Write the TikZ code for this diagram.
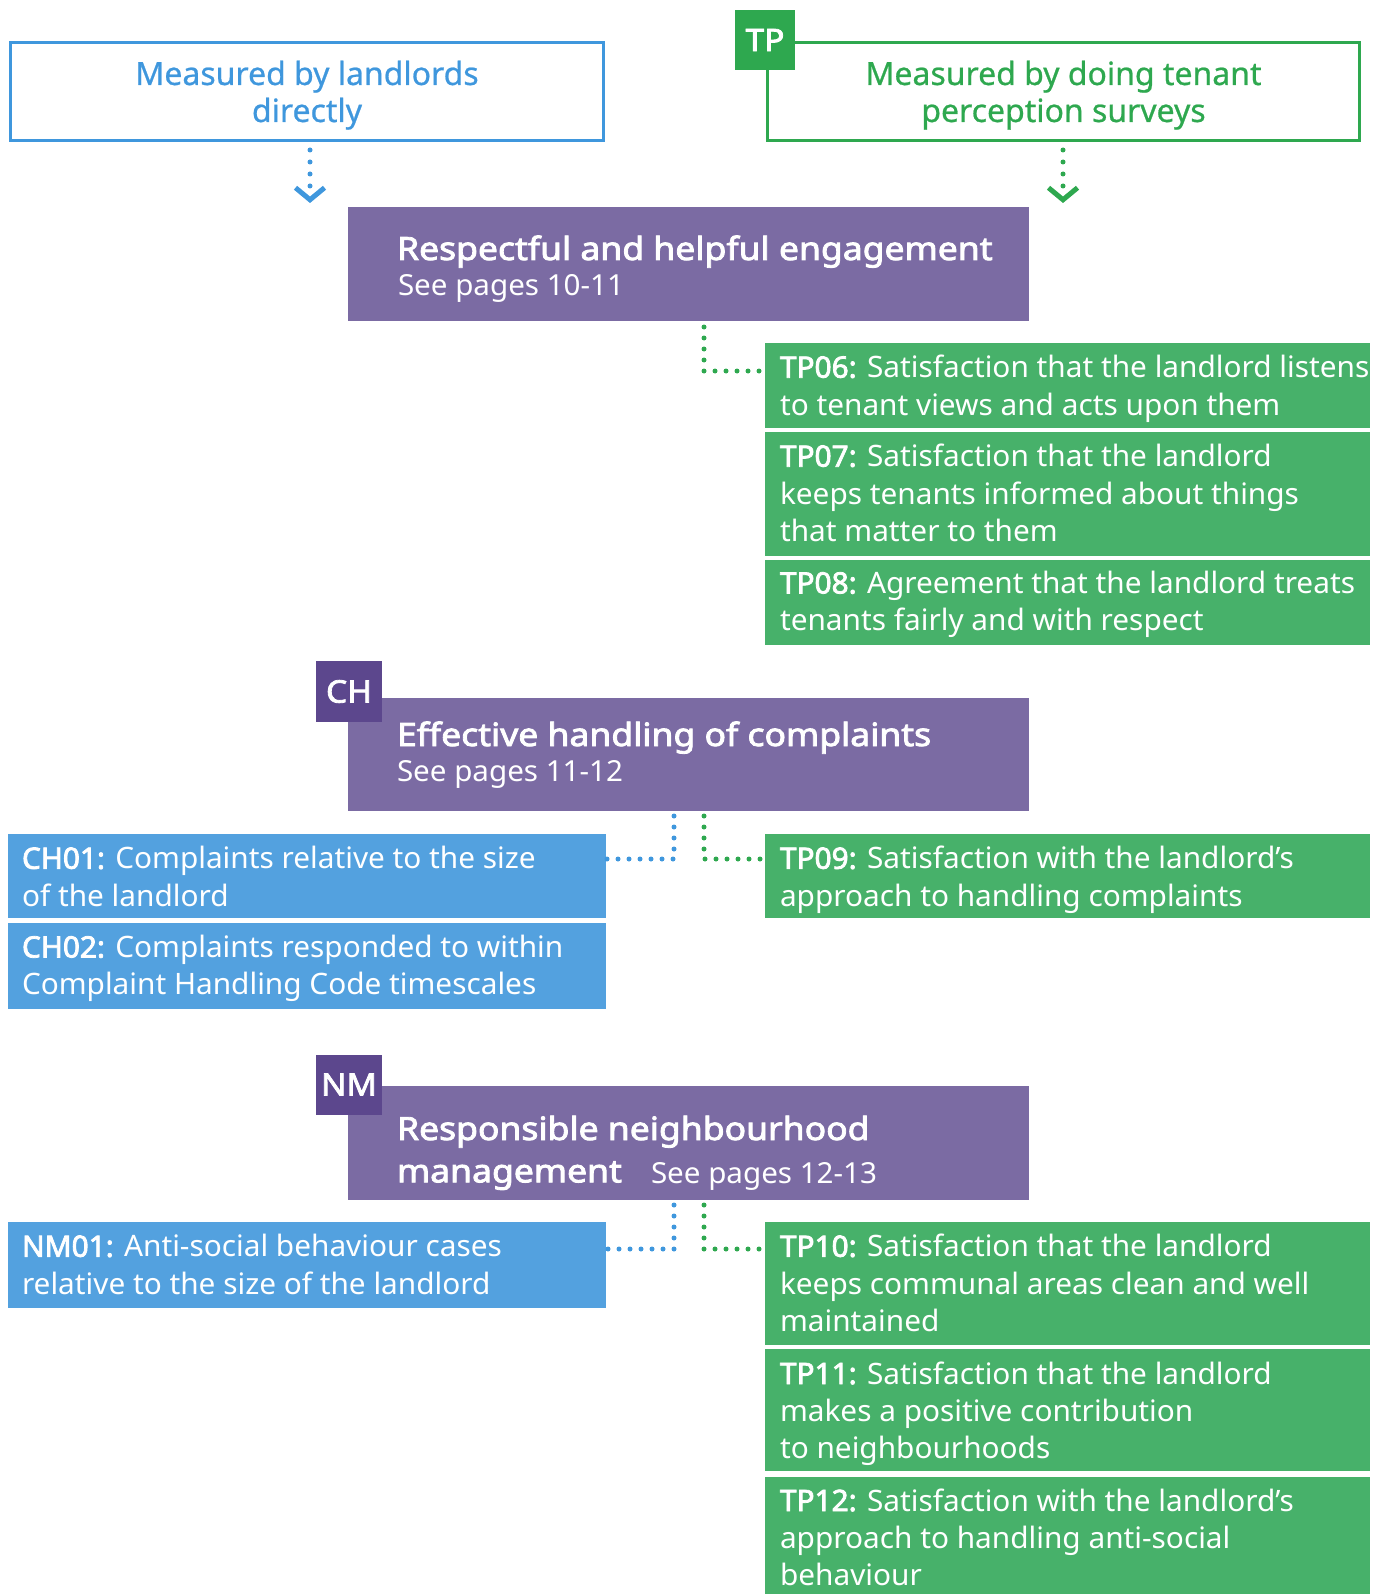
\documentclass[tikz,border=0pt]{standalone}
\usepackage{fontspec}
\setmainfont{Noto Sans}[AutoFakeBold=2.6]
\usetikzlibrary{arrows.meta}
\definecolor{lblue}{HTML}{3F97DD}
\definecolor{lgreen}{HTML}{2EA84F}
\definecolor{bfill}{HTML}{53A1DF}
\definecolor{gfill}{HTML}{47B16A}
\definecolor{pfill}{HTML}{7B6BA3}
\definecolor{dpurple}{HTML}{5C478D}
\newcommand\mylines[1]{\begin{tabular}[t]{@{}l@{}}#1\end{tabular}}
\newcommand\mycent[1]{\begin{tabular}[t]{@{}c@{}}#1\end{tabular}}
\begin{document}
\begin{tikzpicture}[x=1pt,y=-1pt,
  rbox/.style={inner sep=0pt, outer sep=0pt, anchor=north west, draw=none},
  gbox/.style={rbox, fill=gfill, minimum width=605pt},
  bbox/.style={rbox, fill=bfill, minimum width=598pt},
  pbox/.style={rbox, fill=pfill, minimum width=681pt, minimum height=113pt},
  obox/.style={inner sep=0pt, outer sep=0pt, anchor=north west, line width=3pt, minimum height=98pt, minimum width=593pt},
  badge/.style={inner sep=0pt, outer sep=0pt, text=white, font=\fontsize{31}{36}\selectfont\bfseries\addfontfeature{FakeStretch=1.08}},
  body/.style={inner sep=0pt, outer sep=0pt, anchor=base west, text=white, font=\fontsize{29.5}{37.3}\selectfont\addfontfeature{FakeStretch=1.01}},
  ttl/.style={inner sep=0pt, outer sep=0pt, anchor=base west, text=white, font=\fontsize{32}{42.3}\selectfont\bfseries\addfontfeature{FakeStretch=1.11}},
  sub/.style={inner sep=0pt, outer sep=0pt, anchor=base west, text=white, font=\fontsize{29}{34}\selectfont\addfontfeature{FakeStretch=1.02}},
  toptxt/.style={inner sep=0pt, outer sep=0pt, anchor=base, font=\fontsize{32}{37}\selectfont\addfontfeature{FakeBold=0.7}},
  dotb/.style={draw=lblue, line width=5pt, line cap=round, dash pattern=on 0pt off 11pt},
  dotg/.style={draw=lgreen, line width=5pt, line cap=round, dash pattern=on 0pt off 11pt},
  dotbt/.style={dotb, dash pattern=on 0pt off 12pt},
  dotgt/.style={dotg, dash pattern=on 0pt off 12pt},
  chev/.style={-{Straight Barb[length=12pt,width=29pt,line width=5pt]}}
]
\useasboundingbox (0,0) rectangle (1386,1594);

% top outline boxes
\node[obox, draw=lblue] (lm) at (10.5,43) {};
\node[toptxt, text=lblue] (lmt) at (307,85) {\mycent{Measured by landlords\\directly}};
\node[obox, draw=lgreen, minimum width=592pt] (rm) at (767.5,43) {};
\node[toptxt, text=lgreen] (rmt) at (1063.5,85) {\mycent{Measured by doing tenant\\perception surveys}};
\node[badge, fill=lgreen, minimum width=60pt, minimum height=60pt] (tpb) at (765,40) {TP};

% top arrows
\coordinate (la) at (310,203);
\coordinate (ra) at (1063,203);
\draw[dotbt, chev] (lm.south -| la) ++(0,9) -- (la);
\draw[dotgt, chev] (rm.south -| ra) ++(0,9) -- (ra);

% purple boxes
\node[pbox] (p1) at (348,207.5) {};
\node[ttl] (p1t) at (397,260) {Respectful and helpful engagement};
\node[sub] (p1s) at (398,296) {See pages 10-11};

\node[pbox] (p2) at (348,697.5) {};
\node[ttl] (p2t) at (397,746) {Effective handling of complaints};
\node[sub] (p2s) at (397,781.5) {See pages 11-12};
\node[badge, fill=dpurple, minimum width=66pt, minimum height=61pt] (chb) at (349,691.5) {CH};

\node[pbox, minimum height=114pt] (p3) at (348,1086) {};
\node[ttl] (p3t) at (397,1140) {\mylines{Responsible neighbourhood\\management}};
\node[sub] (p3s) at (651,1183) {See pages 12-13};
\node[badge, fill=dpurple, minimum width=66pt, minimum height=60pt] (nmb) at (349,1084.5) {NM};

% green boxes
\node[gbox, minimum height=85pt] (tp06) at (765,343.3) {};
\node[body] (tp06t) at (780,377.7) {\mylines{\textbf{TP06:} Satisfaction that the landlord listens\\to tenant views and acts upon them}};
\node[gbox, minimum height=123.4pt] (tp07) at (765,432.3) {};
\node[body] (tp07t) at (780,466.7) {\mylines{\textbf{TP07:} Satisfaction that the landlord\\keeps tenants informed about things\\that matter to them}};
\node[gbox, minimum height=85pt] (tp08) at (765,560) {};
\node[body] (tp08t) at (780,593.5) {\mylines{\textbf{TP08:} Agreement that the landlord treats\\tenants fairly and with respect}};
\node[gbox, minimum height=84.4pt] (tp09) at (765,833.9) {};
\node[body] (tp09t) at (780,868.8) {\mylines{\textbf{TP09:} Satisfaction with the landlord's\\approach to handling complaints}};
\node[gbox, minimum height=123pt] (tp10) at (765,1222.3) {};
\node[body] (tp10t) at (780,1256.8) {\mylines{\textbf{TP10:} Satisfaction that the landlord\\keeps communal areas clean and well\\maintained}};
\node[gbox, minimum height=122pt] (tp11) at (765,1349.4) {};
\node[body] (tp11t) at (780,1384) {\mylines{\textbf{TP11:} Satisfaction that the landlord\\makes a positive contribution\\to neighbourhoods}};
\node[gbox, minimum height=127pt] (tp12) at (765,1476.5) {};
\node[body] (tp12t) at (780,1511) {\mylines{\textbf{TP12:} Satisfaction with the landlord's\\approach to handling anti-social\\behaviour}};

% blue boxes
\node[bbox, minimum height=84.4pt] (ch01) at (8,833.9) {};
\node[body] (ch01t) at (22,868.8) {\mylines{\textbf{CH01:} Complaints relative to the size\\of the landlord}};
\node[bbox, minimum height=85.5pt] (ch02) at (8,923.3) {};
\node[body] (ch02t) at (22,957.5) {\mylines{\textbf{CH02:} Complaints responded to within\\Complaint Handling Code timescales}};
\node[bbox, minimum height=85.4pt] (nm01) at (8,1222.3) {};
\node[body] (nm01t) at (22,1256.8) {\mylines{\textbf{NM01:} Anti-social behaviour cases\\relative to the size of the landlord}};

% connectors
\coordinate (c1) at (704,371);
\draw[dotg] (p1.south -| c1) ++(0,6.5) -- (c1) -- (c1 -| tp06.west);

\coordinate (c2b) at (674,859);
\coordinate (c2g) at (704,859);
\draw[dotb] (p2.south -| c2b) ++(0,5.5) -- (c2b) -- (c2b -| ch01.east);
\draw[dotg] (p2.south -| c2g) ++(0,5.5) -- (c2g) -- (c2g -| tp09.west);

\coordinate (c3b) at (674,1249);
\coordinate (c3g) at (704,1249);
\draw[dotb] (p3.south -| c3b) ++(0,5) -- (c3b) -- (c3b -| nm01.east);
\draw[dotg] (p3.south -| c3g) ++(0,5) -- (c3g) -- (c3g -| tp10.west);
\end{tikzpicture}
\end{document}
